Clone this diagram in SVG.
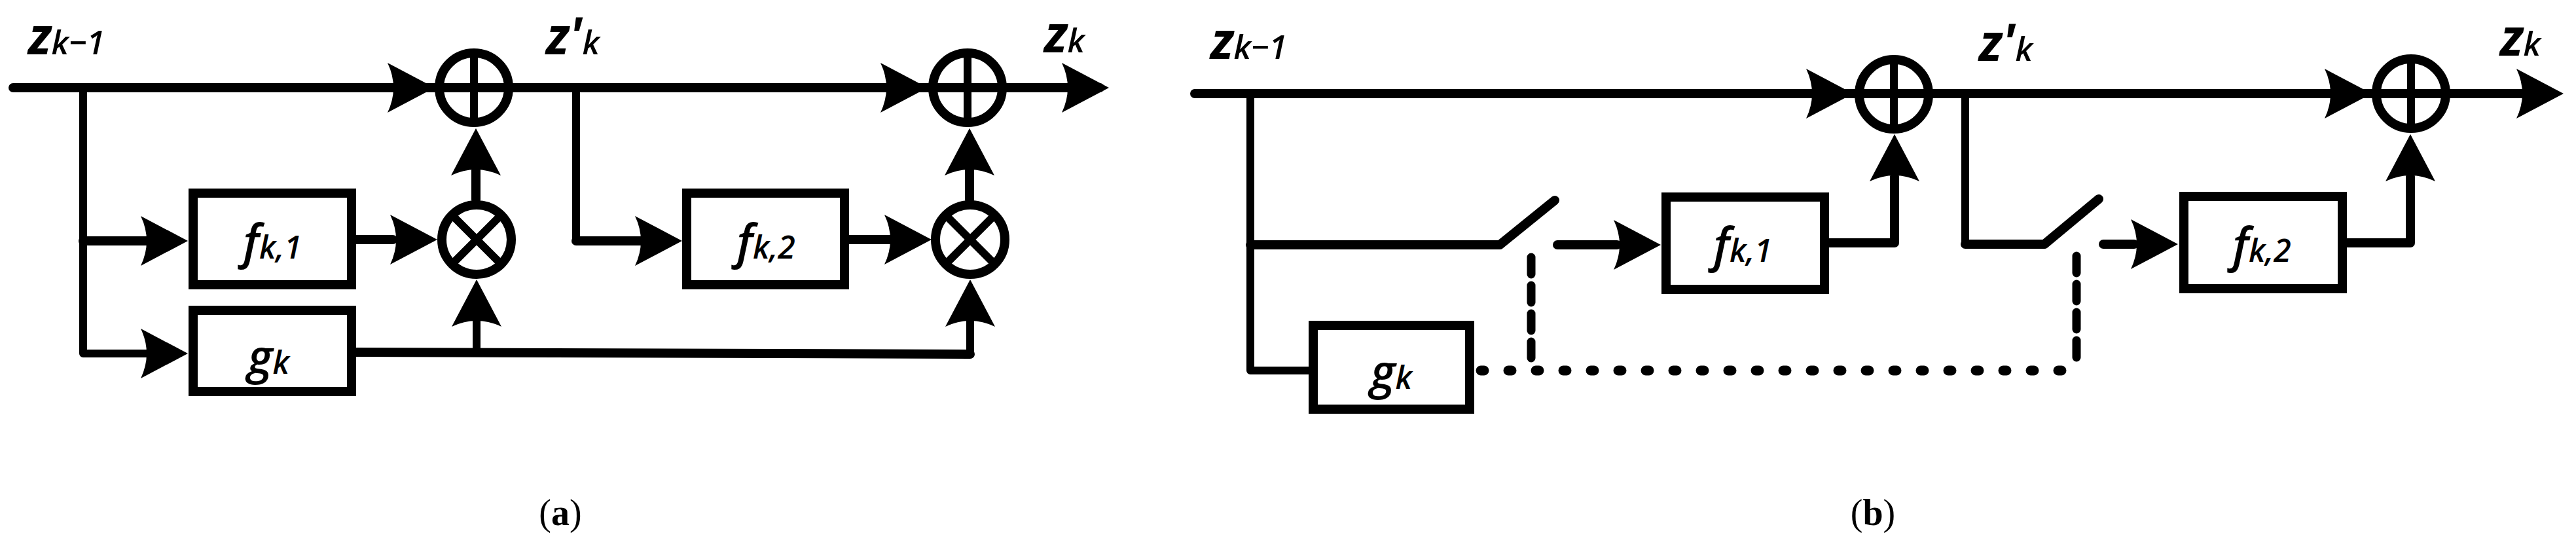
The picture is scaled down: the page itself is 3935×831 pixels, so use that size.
<svg xmlns="http://www.w3.org/2000/svg" width="3935" height="831" viewBox="0 0 3935 831">
<style>
.w{stroke:#000;stroke-width:14;fill:none;stroke-linecap:round;stroke-linejoin:round}
.t{stroke:#000;stroke-width:12;fill:none;stroke-linecap:round;stroke-linejoin:round}
.box{stroke:#000;stroke-width:14;fill:#fff}
.op{stroke:#000;stroke-width:14;fill:#fff}
.dash{stroke:#000;stroke-width:13;fill:none;stroke-linecap:round;stroke-dasharray:26 17}
.dot{stroke:#000;stroke-width:15;fill:none;stroke-linecap:round;stroke-dasharray:5 37}
.lab{font-family:"Open Sans","DejaVu Sans",sans-serif;font-style:italic;font-weight:bold;fill:#000}
.sub{font-size:50px;font-weight:600}
.bt{font-family:"Open Sans","DejaVu Sans",sans-serif;font-style:italic;font-weight:600;fill:#000}
.cap{font-family:"Liberation Serif",serif;font-size:56px;fill:#000}
</style>
<defs>
<path id="ah" d="M0,0 L-72,-38 Q-54,0 -72,38 Z" fill="#000"/>
</defs>
<g id="connectors">
<path class="w" d="M20,134 H1680"/>
<path class="t" d="M127,134 V540 H230"/>
<path class="w" d="M127,368 H230"/>
<path class="w" d="M544,366 H600"/>
<path class="w" d="M727,305 V260"/>
<path class="w" d="M544,538 L1482,541"/>
<path class="t" d="M728,538 V490"/>
<path class="t" d="M1482,541 V490"/>
<path class="t" d="M880,134 V368"/>
<path class="w" d="M880,368 H980"/>
<path class="w" d="M1297,366 H1360"/>
<path class="w" d="M1481,305 V260"/>
<use href="#ah" transform="translate(664,134)"/>
<use href="#ah" transform="translate(1417,134)"/>
<use href="#ah" transform="translate(1694,134)"/>
<use href="#ah" transform="translate(287,368)"/>
<use href="#ah" transform="translate(287,540)"/>
<use href="#ah" transform="translate(668,366)"/>
<use href="#ah" transform="translate(727,196) rotate(-90)"/>
<use href="#ah" transform="translate(728,427) rotate(-90)"/>
<use href="#ah" transform="translate(1042,368)"/>
<use href="#ah" transform="translate(1423,366)"/>
<use href="#ah" transform="translate(1481,196) rotate(-90)"/>
<use href="#ah" transform="translate(1482,427) rotate(-90)"/>
<path class="w" d="M1825,143 H3880"/>
<path class="t" d="M1910,143 V566 H1999"/>
<path class="w" d="M1910,374 H2291 L2375,306"/>
<path class="w" d="M2379,374 H2470"/>
<path class="w" d="M2794,371 H2894 V270"/>
<path class="t" d="M3002,143 V373"/>
<path class="w" d="M3002,373 H3123 L3206,304"/>
<path class="w" d="M3213,373 H3260"/>
<path class="w" d="M3585,371 H3682 V270"/>
<path class="dash" d="M2339,393 V547"/>
<path class="dash" d="M3172,391 V547"/>
<path class="dot" d="M2262,566 H3172 V560"/>
<use href="#ah" transform="translate(2831,143)"/>
<use href="#ah" transform="translate(3623,143)"/>
<use href="#ah" transform="translate(3916,143)"/>
<use href="#ah" transform="translate(2537,374)"/>
<use href="#ah" transform="translate(3327,373)"/>
<use href="#ah" transform="translate(2894,205) rotate(-90)"/>
<use href="#ah" transform="translate(3682,205) rotate(-90)"/>
</g>
<g id="sum1a"><circle class="op" cx="724" cy="134" r="53" style="fill:none"/><path class="t" d="M724,81 V187"/></g>
<g id="sum2a"><circle class="op" cx="1478" cy="134" r="53" style="fill:none"/><path class="t" d="M1478,81 V187"/></g>
<g id="mul1a"><circle class="op" cx="728" cy="366" r="53"/><path class="t" d="M692,330 L764,402 M764,330 L692,402"/></g>
<g id="mul2a"><circle class="op" cx="1482" cy="366" r="53"/><path class="t" d="M1446,330 L1518,402 M1518,330 L1446,402"/></g>
<g id="f1a"><rect class="box" x="295" y="295" width="242" height="140"/><text class="bt" x="416" y="395" text-anchor="middle" font-size="72">f<tspan font-size="48">k,1</tspan></text></g>
<g id="f2a"><rect class="box" x="1049" y="295" width="241" height="140"/><text class="bt" x="1170" y="395" text-anchor="middle" font-size="72">f<tspan font-size="48">k,2</tspan></text></g>
<g id="ga"><rect class="box" x="295" y="474" width="242" height="124"/><text class="bt" x="410" y="571" text-anchor="middle" font-size="72">g<tspan font-size="48">k</tspan></text></g>
<g id="sum1b"><circle class="op" cx="2893" cy="144" r="53" style="fill:none"/><path class="t" d="M2893,91 V197"/></g>
<g id="sum2b"><circle class="op" cx="3683" cy="143" r="53" style="fill:none"/><path class="t" d="M3683,90 V196"/></g>
<g id="f1b"><rect class="box" x="2545" y="301" width="242" height="141"/><text class="bt" x="2662" y="400" text-anchor="middle" font-size="72">f<tspan font-size="48">k,1</tspan></text></g>
<g id="f2b"><rect class="box" x="3336" y="300" width="242" height="141"/><text class="bt" x="3455" y="400" text-anchor="middle" font-size="72">f<tspan font-size="48">k,2</tspan></text></g>
<g id="gb"><rect class="box" x="2006" y="497" width="239" height="128"/><text class="bt" x="2125" y="594" text-anchor="middle" font-size="72">g<tspan font-size="48">k</tspan></text></g>
<g id="labels">
<text class="lab" x="43" y="83" font-size="78">z<tspan class="sub">k−1</tspan></text>
<text class="lab" x="834" y="83" font-size="78">z'<tspan class="sub">k</tspan></text>
<text class="lab" x="1595" y="80" font-size="78">z<tspan class="sub">k</tspan></text>
<text class="lab" x="1849" y="90" font-size="78">z<tspan class="sub">k−1</tspan></text>
<text class="lab" x="3023" y="93" font-size="78">z'<tspan class="sub">k</tspan></text>
<text class="lab" x="3819" y="85" font-size="78">z<tspan class="sub">k</tspan></text>
<text class="cap" x="856" y="802" text-anchor="middle">(<tspan font-weight="bold">a</tspan>)</text>
<text class="cap" x="2861" y="802" text-anchor="middle">(<tspan font-weight="bold">b</tspan>)</text>
</g>
</svg>
